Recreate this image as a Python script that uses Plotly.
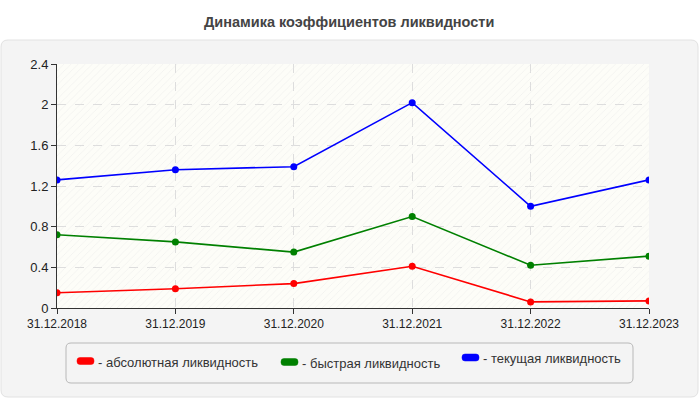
import plotly.graph_objects as go

categories = ["31.12.2018", "31.12.2019", "31.12.2020", "31.12.2021", "31.12.2022", "31.12.2023"]
absolute = [0.15, 0.19, 0.24, 0.41, 0.06, 0.07]
quick = [0.72, 0.65, 0.55, 0.90, 0.42, 0.51]
current = [1.26, 1.36, 1.39, 2.02, 1.00, 1.26]
series_names = ["- абсолютная ликвидность", "- быстрая ликвидность", "- текущая ликвидность"]
series_colors = ["#ff0000", "#008000", "#0000ff"]
y_ticks = [0, 0.4, 0.8, 1.2, 1.6, 2.0, 2.4]
y_tick_labels = ["0", "0.4", "0.8", "1.2", "1.6", "2", "2.4"]

W, H = 700, 400
L, R, T, B = 57, 51, 64, 92
PW, PH = W - L - R, H - T - B


def px(x):
    return (x - L) / PW


def py(y):
    return (H - B - y) / PH


def rounded_rect(x0, y0, x1, y1, r):
    rx, ry = r / PW, r / PH
    a0, a1 = px(x0), px(x1)
    b0, b1 = py(y1), py(y0)
    return (f"M {a0+rx},{b1} L {a1-rx},{b1} Q {a1},{b1} {a1},{b1-ry} "
            f"L {a1},{b0+ry} Q {a1},{b0} {a1-rx},{b0} L {a0+rx},{b0} "
            f"Q {a0},{b0} {a0},{b0+ry} L {a0},{b1-ry} Q {a0},{b1} {a0+rx},{b1} Z")


fig = go.Figure()

# faint hatched plot background (spans full axis range)
y_lo, y_hi = y_ticks[0], y_ticks[-1]
fig.add_trace(go.Scatter(
    x=[categories[0], categories[-1], categories[-1], categories[0], categories[0]],
    y=[y_lo, y_lo, y_hi, y_hi, y_lo],
    mode="lines", line=dict(width=0), fill="toself", fillcolor="rgba(0,0,0,0)",
    fillpattern=dict(shape="/", fgcolor="#e4e4e4", bgcolor="rgba(0,0,0,0)", size=5, solidity=0.15),
    hoverinfo="skip", showlegend=False))

for vals, name, color in zip([absolute, quick, current], series_names, series_colors):
    fig.add_trace(go.Scatter(
        x=categories, y=vals, name=name, mode="lines+markers",
        line=dict(color=color, width=1.6),
        marker=dict(color=color, size=7), showlegend=False))

shapes = [
    dict(type="path", xref="paper", yref="paper", path=rounded_rect(1, 40, 698, 397, 7),
         fillcolor="#f4f4f4", line=dict(color="#e2e2e2", width=1), layer="below"),
    dict(type="path", xref="paper", yref="paper", path=rounded_rect(66, 343, 633, 383, 5),
         fillcolor="#f4f4f4", line=dict(color="#b8b8b8", width=1), layer="below"),
    dict(type="rect", xref="paper", yref="paper", x0=0, x1=1, y0=0, y1=1,
         fillcolor="#fdfdf8", line=dict(width=0), layer="below"),
]
annotations = [
    dict(text="<b>Динамика коэффициентов ликвидности</b>", xref="paper", yref="paper",
         x=px(349), y=py(22), showarrow=False, xanchor="center", yanchor="middle",
         font=dict(size=14.5, color="#444444", family="Arial")),
]
# (swatch left x, swatch centre y, text centre y)
legend_pos = [(77, 361, 362), (281, 362, 363), (462, 357.5, 358)]
for (lx, sy, ty), name, color in zip(legend_pos, series_names, series_colors):
    shapes.append(dict(type="path", xref="paper", yref="paper",
                       path=rounded_rect(lx, sy - 3.5, lx + 17, sy + 3.5, 3),
                       fillcolor=color, line=dict(color=color, width=0.5)))
    annotations.append(dict(text=name, xref="paper", yref="paper", x=px(lx + 19), y=py(ty),
                            showarrow=False, xanchor="left", yanchor="middle",
                            font=dict(size=13, color="#333333", family="Arial")))

fig.update_layout(
    width=W, height=H, margin=dict(l=L, r=R, t=T, b=B),
    paper_bgcolor="#ffffff", plot_bgcolor="rgba(0,0,0,0)",
    font=dict(family="Arial", size=12, color="#222222"),
    shapes=shapes, annotations=annotations, showlegend=False,
    xaxis=dict(type="category", categoryorder="array", categoryarray=categories,
               range=[0, len(categories) - 1], showgrid=True, gridcolor="#dddddd", griddash="dash",
               gridwidth=1, showline=True, linecolor="#333333", linewidth=1, ticks="outside",
               ticklen=5, tickcolor="#333333", zeroline=False, fixedrange=True,
               tickfont=dict(size=12, color="#222222")),
    yaxis=dict(range=[y_lo, y_hi], tickvals=y_ticks, ticktext=y_tick_labels, showgrid=True,
               gridcolor="#dddddd", griddash="dash", gridwidth=1, showline=True,
               linecolor="#333333", linewidth=1, ticks="outside", ticklen=5, tickcolor="#333333",
               zeroline=False, fixedrange=True, tickfont=dict(size=13, color="#222222")),
)

fig.write_html("out.html")
